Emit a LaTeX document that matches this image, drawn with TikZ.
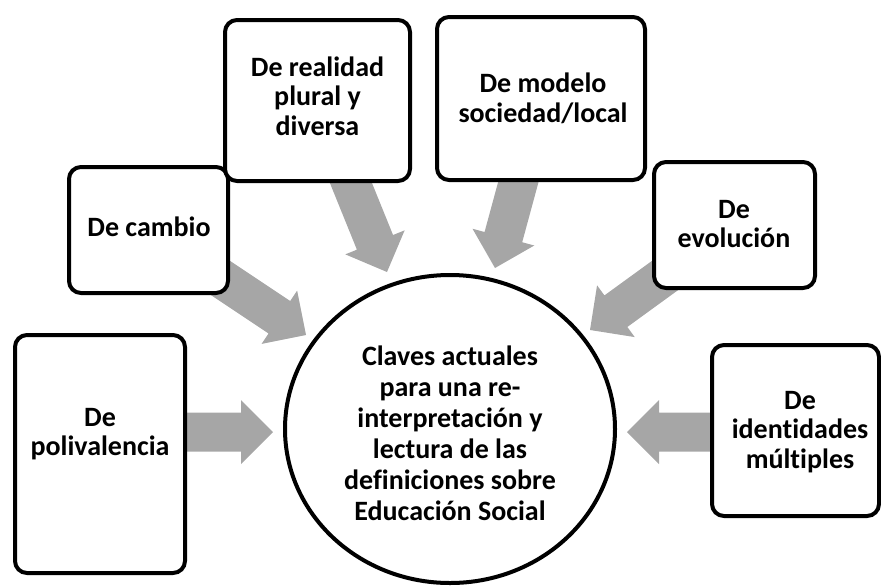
\documentclass[tikz,border=0pt]{standalone}
\usepackage{fontspec}
\setmainfont{Carlito}[Ligatures={NoCommon}]
\usetikzlibrary{calc,fit,shapes.geometric}
\definecolor{arrowgray}{HTML}{A6A6A6}
\pgfdeclarelayer{background}
\pgfsetlayers{background,main}
\begin{document}
\begin{tikzpicture}[x=1pt,y=-1pt,
  box/.style={draw=black, line width=4pt, rounded corners=12pt, fill=white, inner sep=0pt},
  lbl/.style={font=\fontsize{28}{29.5}\selectfont\bfseries, align=center, inner sep=0pt},
  clbl/.style={font=\fontsize{28}{31}\selectfont\bfseries, align=center, inner sep=0pt},
  blockarrow/.style={fill=arrowgray, draw=none, to path={
    let \p3=($(\tikztotarget)!32pt!(\tikztostart)$) in
    ($(\tikztostart)!19.5pt!90:(\tikztotarget)$)
    -- ($(\p3)!19.5pt!-90:(\tikztostart)$)
    -- ($(\p3)!32pt!-90:(\tikztostart)$)
    -- (\tikztotarget)
    -- ($(\p3)!32pt!90:(\tikztostart)$)
    -- ($(\p3)!19.5pt!90:(\tikztostart)$)
    -- ($(\tikztostart)!19.5pt!-90:(\tikztotarget)$) -- cycle}}]
\useasboundingbox (0,0) rectangle (881,587);

% boxes
\node[box, fit={(15,335) (185,573)}] (poli) {};
\node[box, fit={(69,167) (228,293)}] (cambio) {};
\node[box, fit={(225,20) (410,181)}] (real) {};
\node[box, fit={(437,17) (645,180)}] (modelo) {};
\node[box, fit={(654,162) (815,288)}] (evol) {};
\node[box, fit={(712,345) (879,516)}] (ident) {};

% central ellipse
\node[ellipse, draw=black, line width=4pt, fill=white, minimum width=330pt, minimum height=308pt, inner sep=0pt] (c) at (450,429) {};

% texts
\node[lbl] (poliT) at (100,434) {De\\polivalencia};
\node[lbl] (cambioT) at (149,227) {De cambio};
\node[lbl] (realT) at (317.5,96) {De realidad\\plural y\\diversa};
\node[lbl] (modeloT) at (543,98.5) {De modelo\\sociedad/local};
\node[lbl] (evolT) at (734,224) {De\\evolución};
\node[lbl] (identT) at (800,432) {De\\identidades\\múltiples};
\node[clbl] (cT) at (450,433) {Claves actuales\\para una re-\\interpretación y\\lectura de las\\definiciones sobre\\Educación Social};

% arrow tips and tails
\coordinate (tipP) at (273,432);
\coordinate (tipI) at (627,432);
\coordinate (tipC) at (306,335);
\coordinate (tipR) at (387,272);
\coordinate (tipM) at (495,268);
\coordinate (tipE) at (590,330);
\coordinate (tailP) at (poli.center |- tipP);
\coordinate (tailI) at (ident.center |- tipI);

\begin{pgfonlayer}{background}
  \path[blockarrow] (tailP) to (tipP);
  \path[blockarrow] (tailI) to (tipI);
  \path[blockarrow] (cambio.center) to (tipC);
  \path[blockarrow] (real.center) to (tipR);
  \path[blockarrow] (modelo.center) to (tipM);
  \path[blockarrow] (evol.center) to (tipE);
\end{pgfonlayer}
\end{tikzpicture}
\end{document}
